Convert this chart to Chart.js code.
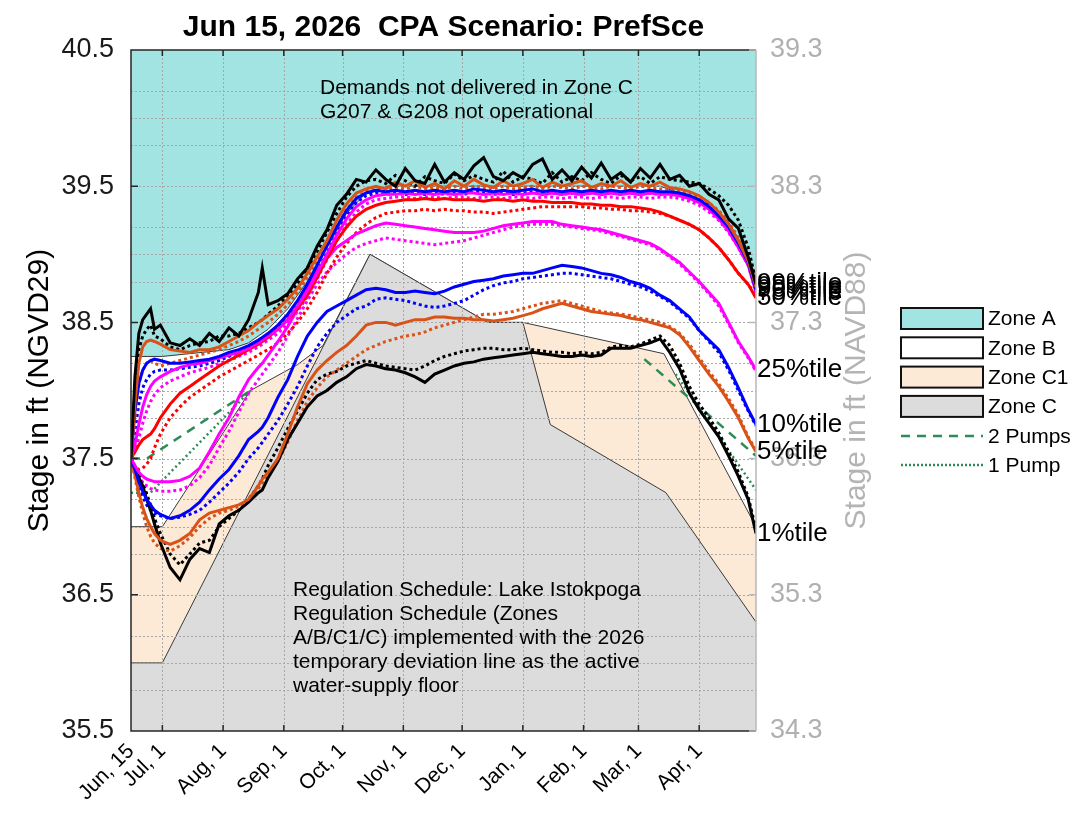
<!DOCTYPE html>
<html>
<head>
<meta charset="utf-8">
<title>Lake Istokpoga stage percentiles</title>
<script src="https://cdn.jsdelivr.net/npm/chart.js@4.4.1/dist/chart.umd.min.js"></script>
<style>
  html, body { margin: 0; padding: 0; background: #fff; }
  #wrap { position: relative; width: 1089px; height: 822px; }
</style>
</head>
<body>
<div id="wrap"><canvas id="stageChart" width="1089" height="822"></canvas></div>
<script>
// days since Jun 15, 2026
const DAYS = [0,2,4,6,8,10,12,15,20,25,30,35,40,45,50,55,60,65,67,70,75,80,85,90,95,100,105,110,115,120,125,130,135,140,145,150,155,160,165,170,175,180,185,190,195,200,205,210,215,220,225,230,235,240,245,250,255,260,265,270,275,280,285,290,295,300,305,310,315,319];

const DATE_TICKS = [0,16,47,78,108,139,169,200,231,259,290];
const DATE_LABELS = ['Jun, 15','Jul, 1','Aug, 1','Sep, 1','Oct, 1','Nov, 1','Dec, 1','Jan, 1','Feb, 1','Mar, 1','Apr, 1'];
const STAGE_TICKS = [35.5,36.5,37.5,38.5,39.5,40.5];
const NAVD_TICKS = [34.3,35.3,36.3,37.3,38.3,39.3];
const GRID_LEVELS = [40.2,40.0,39.8,39.5,39.2,39.0,38.8,38.5,38.2,38.0,37.8,37.5,37.2,37.0,36.8,36.5,36.2,36.0,35.8];

// percentile stage (ft NGVD29), solid and dotted runs
const p99Solid = [37.5,38.1,38.42,38.52,38.56,38.6,38.45,38.48,38.35,38.33,
  38.38,38.33,38.42,38.36,38.46,38.4,38.52,38.72,38.9,38.63,
  38.66,38.71,38.82,38.9,39.06,39.18,39.36,39.44,39.55,39.53,
  39.62,39.55,39.5,39.63,39.54,39.52,39.66,39.53,39.6,39.55,
  39.65,39.71,39.57,39.54,39.6,39.56,39.66,39.7,39.55,39.62,
  39.54,39.64,39.56,39.67,39.55,39.6,39.53,39.63,39.56,39.66,
  39.55,39.58,39.5,39.52,39.44,39.4,39.26,39.19,38.98,38.78];
const p99Dotted = [37.5,38.0,38.3,38.4,38.45,38.48,38.4,38.38,38.32,38.3,
  38.33,38.35,38.36,38.4,38.4,38.42,38.46,38.5,38.52,38.56,
  38.62,38.7,38.78,38.9,39.02,39.16,39.3,39.42,39.5,39.54,
  39.55,39.52,39.58,39.54,39.5,39.57,39.54,39.52,39.59,39.54,
  39.58,39.55,39.53,39.61,39.53,39.57,39.55,39.52,39.6,39.53,
  39.57,39.54,39.6,39.55,39.52,39.58,39.54,39.57,39.52,39.57,
  39.55,39.54,39.53,39.52,39.48,39.43,39.36,39.25,39.05,38.8];
const p95Solid = [37.5,37.9,38.2,38.32,38.36,38.37,38.36,38.34,38.3,38.29,
  38.28,38.3,38.3,38.32,38.36,38.4,38.44,38.5,38.52,38.55,
  38.6,38.67,38.75,38.86,38.98,39.1,39.25,39.37,39.45,39.48,
  39.5,39.48,39.53,39.5,39.54,39.49,39.52,39.48,39.54,39.5,
  39.55,39.51,39.49,39.54,39.5,39.52,39.55,39.49,39.53,39.5,
  39.52,39.54,39.49,39.52,39.5,39.54,39.49,39.52,39.5,39.53,
  39.49,39.48,39.46,39.43,39.38,39.31,39.22,39.1,38.95,38.76];
const p95Dotted = [37.5,37.8,38.05,38.15,38.2,38.22,38.2,38.18,38.2,38.22,
  38.24,38.26,38.28,38.3,38.33,38.36,38.4,38.45,38.47,38.5,
  38.56,38.63,38.72,38.83,38.95,39.07,39.2,39.33,39.42,39.46,
  39.48,39.47,39.49,39.48,39.5,39.48,39.49,39.48,39.5,39.48,
  39.5,39.49,39.48,39.5,39.48,39.49,39.5,39.48,39.5,39.49,
  39.48,39.5,39.49,39.48,39.5,39.49,39.48,39.5,39.49,39.48,
  39.48,39.47,39.45,39.42,39.38,39.32,39.24,39.12,38.97,38.76];
const p90Solid = [37.5,37.85,38.05,38.15,38.2,38.22,38.23,38.22,38.2,38.2,
  38.21,38.22,38.23,38.25,38.28,38.3,38.33,38.37,38.39,38.42,
  38.48,38.56,38.66,38.78,38.92,39.06,39.2,39.32,39.41,39.45,
  39.47,39.46,39.47,39.46,39.47,39.46,39.47,39.46,39.47,39.46,
  39.48,39.47,39.46,39.47,39.46,39.47,39.48,39.46,39.47,39.46,
  39.47,39.46,39.47,39.46,39.47,39.46,39.47,39.46,39.47,39.46,
  39.46,39.45,39.43,39.4,39.35,39.28,39.2,39.08,38.94,38.74];
const p90Dotted = [37.5,37.7,37.9,38.02,38.08,38.12,38.14,38.15,38.15,38.16,
  38.17,38.18,38.2,38.22,38.25,38.28,38.31,38.35,38.37,38.4,
  38.46,38.53,38.62,38.74,38.87,39.01,39.15,39.28,39.38,39.43,
  39.45,39.44,39.45,39.44,39.45,39.44,39.45,39.44,39.45,39.44,
  39.46,39.45,39.44,39.45,39.44,39.45,39.46,39.44,39.45,39.44,
  39.45,39.44,39.45,39.44,39.45,39.44,39.45,39.44,39.45,39.44,
  39.45,39.44,39.42,39.4,39.36,39.3,39.22,39.1,38.96,38.75];
const p75Solid = [37.5,37.6,37.75,37.88,37.97,38.03,38.07,38.1,38.14,38.17,
  38.19,38.2,38.22,38.24,38.26,38.28,38.31,38.35,38.37,38.4,
  38.45,38.52,38.62,38.73,38.86,39.0,39.14,39.26,39.35,39.4,
  39.43,39.44,39.44,39.45,39.44,39.45,39.44,39.45,39.44,39.45,
  39.45,39.44,39.45,39.44,39.45,39.44,39.45,39.44,39.45,39.44,
  39.45,39.44,39.45,39.44,39.45,39.44,39.45,39.44,39.45,39.44,
  39.44,39.43,39.41,39.38,39.33,39.26,39.17,39.05,38.92,38.72];
const p75Dotted = [37.5,37.55,37.65,37.76,37.85,37.92,37.97,38.02,38.07,38.1,
  38.13,38.15,38.17,38.2,38.22,38.25,38.28,38.32,38.34,38.37,
  38.42,38.49,38.58,38.69,38.82,38.96,39.1,39.22,39.31,39.37,
  39.4,39.41,39.42,39.42,39.41,39.42,39.42,39.41,39.42,39.42,
  39.41,39.42,39.42,39.41,39.42,39.42,39.41,39.42,39.42,39.41,
  39.42,39.42,39.41,39.42,39.42,39.41,39.42,39.42,39.41,39.42,
  39.42,39.41,39.39,39.36,39.31,39.25,39.16,39.05,38.92,38.73];
const p50Solid = [37.5,37.55,37.6,37.64,37.66,37.68,37.72,37.8,37.9,37.98,
  38.03,38.08,38.13,38.18,38.22,38.26,38.3,38.34,38.36,38.39,
  38.45,38.52,38.6,38.7,38.83,38.97,39.1,39.2,39.28,39.33,
  39.36,39.38,39.39,39.4,39.4,39.41,39.4,39.41,39.4,39.4,
  39.4,39.39,39.4,39.4,39.39,39.4,39.39,39.39,39.38,39.38,
  39.38,39.37,39.37,39.36,39.36,39.35,39.35,39.34,39.33,39.31,
  39.28,39.25,39.22,39.18,39.12,39.05,38.96,38.86,38.78,38.68];
const p50Dotted = [37.5,37.44,37.42,37.43,37.46,37.5,37.58,37.68,37.8,37.88,
  37.95,38.0,38.05,38.1,38.14,38.18,38.22,38.26,38.28,38.3,
  38.35,38.42,38.5,38.6,38.72,38.86,38.98,39.08,39.16,39.22,
  39.27,39.3,39.31,39.32,39.32,39.33,39.32,39.33,39.32,39.32,
  39.31,39.31,39.3,39.31,39.32,39.33,39.34,39.35,39.35,39.35,
  39.35,39.35,39.34,39.34,39.33,39.33,39.32,39.32,39.31,39.3,
  39.28,39.25,39.22,39.18,39.12,39.05,38.96,38.86,38.78,38.7];
const p25Solid = [37.5,37.45,37.4,37.37,37.35,37.34,37.33,37.33,37.33,37.34,
  37.37,37.43,37.55,37.68,37.8,37.95,38.08,38.17,38.2,38.26,
  38.36,38.47,38.6,38.75,38.88,38.97,39.05,39.1,39.15,39.18,
  39.21,39.23,39.22,39.21,39.2,39.19,39.18,39.17,39.16,39.16,
  39.16,39.17,39.19,39.21,39.22,39.23,39.24,39.24,39.24,39.22,
  39.21,39.2,39.19,39.18,39.16,39.14,39.12,39.1,39.08,39.04,
  38.99,38.94,38.87,38.8,38.72,38.64,38.5,38.36,38.25,38.15];
const p25Dotted = [37.5,37.42,37.36,37.32,37.3,37.28,37.27,37.26,37.26,37.27,
  37.3,37.36,37.45,37.58,37.7,37.84,37.98,38.08,38.12,38.18,
  38.28,38.4,38.53,38.66,38.78,38.87,38.94,39.0,39.05,39.08,
  39.1,39.12,39.11,39.1,39.09,39.08,39.07,39.08,39.09,39.1,
  39.12,39.14,39.16,39.18,39.2,39.21,39.22,39.22,39.22,39.21,
  39.2,39.19,39.18,39.17,39.15,39.13,39.11,39.09,39.07,39.03,
  38.98,38.93,38.86,38.79,38.71,38.62,38.49,38.35,38.24,38.14];
const p10Solid = [37.5,37.42,37.33,37.26,37.2,37.16,37.12,37.09,37.06,37.08,
  37.12,37.18,37.27,37.35,37.42,37.52,37.64,37.7,37.73,37.8,
  37.95,38.08,38.25,38.4,38.5,38.58,38.62,38.66,38.7,38.74,
  38.75,38.74,38.72,38.72,38.73,38.72,38.71,38.73,38.76,38.78,
  38.8,38.81,38.82,38.84,38.85,38.86,38.86,38.88,38.9,38.92,
  38.91,38.9,38.88,38.86,38.85,38.83,38.8,38.78,38.75,38.7,
  38.66,38.6,38.54,38.44,38.37,38.3,38.17,38.02,37.86,37.75];
const p10Dotted = [37.5,37.4,37.3,37.22,37.16,37.12,37.1,37.08,37.06,37.07,
  37.09,37.12,37.18,37.25,37.32,37.4,37.5,37.58,37.62,37.68,
  37.78,37.9,38.03,38.18,38.32,38.42,38.5,38.55,38.6,38.62,
  38.67,38.68,38.67,38.66,38.64,38.62,38.61,38.62,38.64,38.66,
  38.7,38.74,38.77,38.79,38.8,38.82,38.83,38.84,38.85,38.86,
  38.86,38.85,38.84,38.83,38.82,38.8,38.78,38.76,38.73,38.69,
  38.65,38.59,38.53,38.44,38.36,38.28,38.15,38.0,37.85,37.74];
const p5Solid = [37.5,37.38,37.25,37.14,37.06,37.0,36.95,36.9,36.87,36.9,
  36.95,37.05,37.1,37.12,37.14,37.16,37.2,37.3,37.35,37.4,
  37.5,37.68,37.88,38.05,38.15,38.22,38.28,38.33,38.4,38.48,
  38.5,38.5,38.48,38.5,38.52,38.52,38.54,38.54,38.53,38.53,
  38.52,38.52,38.51,38.52,38.53,38.55,38.57,38.6,38.62,38.64,
  38.62,38.6,38.58,38.57,38.56,38.55,38.53,38.52,38.5,38.48,
  38.46,38.41,38.32,38.22,38.12,38.03,37.92,37.8,37.65,37.55];
const p5Dotted = [37.5,37.36,37.22,37.1,37.0,36.93,36.88,36.84,36.82,36.86,
  36.92,37.0,37.06,37.1,37.12,37.15,37.2,37.28,37.32,37.38,
  37.48,37.62,37.78,37.92,38.02,38.1,38.15,38.2,38.25,38.3,
  38.33,38.36,38.38,38.4,38.41,38.43,38.46,38.48,38.5,38.52,
  38.54,38.56,38.56,38.57,38.58,38.6,38.62,38.64,38.65,38.66,
  38.64,38.62,38.6,38.58,38.57,38.56,38.55,38.53,38.52,38.5,
  38.47,38.42,38.34,38.24,38.14,38.05,37.94,37.82,37.66,37.56];
const p1Solid = [37.5,37.42,37.36,37.3,37.2,37.12,37.02,36.88,36.7,36.61,
  36.76,36.84,36.81,37.02,37.08,37.12,37.18,37.25,37.27,37.36,
  37.48,37.64,37.76,37.88,37.96,38.0,38.06,38.1,38.16,38.19,
  38.18,38.16,38.15,38.13,38.1,38.06,38.12,38.15,38.18,38.2,
  38.21,38.23,38.24,38.25,38.26,38.27,38.28,38.27,38.26,38.25,
  38.25,38.26,38.25,38.26,38.31,38.31,38.31,38.33,38.35,38.38,
  38.28,38.16,37.98,37.86,37.76,37.66,37.52,37.37,37.2,36.95];
const p1Dotted = [37.5,37.44,37.38,37.32,37.24,37.16,37.06,36.95,36.8,36.72,
  36.8,36.88,36.9,37.0,37.06,37.12,37.2,37.3,37.35,37.45,
  37.58,37.72,37.85,37.98,38.08,38.12,38.14,38.18,38.2,38.22,
  38.2,38.18,38.17,38.16,38.15,38.18,38.22,38.25,38.27,38.29,
  38.3,38.31,38.31,38.3,38.3,38.31,38.3,38.29,38.28,38.28,
  38.27,38.28,38.27,38.28,38.32,38.33,38.32,38.34,38.37,38.4,
  38.33,38.2,38.03,37.9,37.8,37.69,37.55,37.4,37.22,36.98];

// pump trigger lines (null = no line)
const PUMP2_DAYS = [0,8,61,150,262,319];
const PUMP2_STAGE = [37.5,37.5,38.0,null,38.23,37.52];
const PUMP1_DAYS = [0,10,61,150,278,319];
const PUMP1_STAGE = [37.25,37.25,38.0,null,38.12,37.27];

// regulation schedule zone boundaries
const ZONE_AB_DAYS = [0,16,50,60,70,80,90,100,110,120,130,270,290,300,310,319];
const ZONE_AB_STAGE = [38.25,38.25,38.3,38.35,38.45,38.6,38.8,39.05,39.3,39.45,39.5,39.5,39.4,39.3,39.1,38.85];
const ZONE_BC1_DAYS = [0,16,61,85,98,122,182,200,272,319];
const ZONE_BC1_STAGE = [37.0,37.0,38.0,38.19,38.33,39.0,38.5,38.5,38.27,37.0];
const ZONE_C_DAYS = [0,16,122,182,200,214,273,319];
const ZONE_C_STAGE = [36.0,36.0,39.0,38.5,38.5,37.75,37.25,36.3];

const TITLE = 'Jun 15, 2026  CPA Scenario: PrefSce';
const NOTE_TOP = ['Demands not delivered in Zone C', 'G207 & G208 not operational'];
const NOTE_BOTTOM = ['Regulation Schedule: Lake Istokpoga', 'Regulation Schedule (Zones',
  'A/B/C1/C) implemented with the 2026', 'temporary deviation line as the active', 'water-supply floor'];

const FONT = "'Liberation Sans', Arial, sans-serif";
const BLACK = '#000000', ORANGE = '#d95319', BLUE = '#0000ff', MAGENTA = '#ff00ff', RED = '#ff0000', GREEN = '#2e8b57';
const CYAN = '#a2e4e1', PEACH = '#fdead6', GREY = '#dcdcdc';

// [label, solid, dotted, colour]
const percentiles = [
  ['99%tile', p99Solid, p99Dotted, BLACK],
  ['95%tile', p95Solid, p95Dotted, ORANGE],
  ['90%tile', p90Solid, p90Dotted, BLUE],
  ['75%tile', p75Solid, p75Dotted, MAGENTA],
  ['50%tile', p50Solid, p50Dotted, RED],
  ['25%tile', p25Solid, p25Dotted, MAGENTA],
  ['10%tile', p10Solid, p10Dotted, BLUE],
  ['5%tile', p5Solid, p5Dotted, ORANGE],
  ['1%tile', p1Solid, p1Dotted, BLACK]
];

function pts(days, vals) {
  return days.map(function(d, i) { return { x: d, y: vals[i] }; });
}

const datasets = [];
percentiles.forEach(function(p, i) {
  datasets.push({ label: p[0], data: pts(DAYS, p[1]), borderColor: p[3], borderWidth: 3,
    pointRadius: 0, fill: false, order: 1 + i });
  datasets.push({ label: p[0] + ' dotted', data: pts(DAYS, p[2]), borderColor: p[3], borderWidth: 3,
    borderDash: [3, 3], pointRadius: 0, fill: false, order: 10 + i });
});
datasets.push({ label: '2 Pumps', data: pts(PUMP2_DAYS, PUMP2_STAGE), borderColor: GREEN, borderWidth: 2.5,
  borderDash: [9, 7], pointRadius: 0, fill: false, order: 20 });
datasets.push({ label: '1 Pump', data: pts(PUMP1_DAYS, PUMP1_STAGE), borderColor: GREEN, borderWidth: 2.5,
  borderDash: [2, 3], pointRadius: 0, fill: false, order: 21 });
datasets.push({ label: 'Zone A', data: pts(ZONE_AB_DAYS, ZONE_AB_STAGE), borderColor: '#3a3a3a', borderWidth: 1,
  backgroundColor: CYAN, pointRadius: 0, fill: 'end', order: 32 });
datasets.push({ label: 'Zone C1', data: pts(ZONE_BC1_DAYS, ZONE_BC1_STAGE), borderColor: '#3a3a3a', borderWidth: 1,
  backgroundColor: PEACH, pointRadius: 0, fill: 'start', order: 31 });
datasets.push({ label: 'Zone C', data: pts(ZONE_C_DAYS, ZONE_C_STAGE), borderColor: '#3a3a3a', borderWidth: 1,
  backgroundColor: GREY, pointRadius: 0, fill: 'start', order: 30 });

function drawGrid(chart) {
  const ctx = chart.ctx, a = chart.chartArea, x = chart.scales.x, y = chart.scales.y;
  ctx.save();
  ctx.strokeStyle = '#a8a8a8';
  ctx.lineWidth = 1;
  ctx.setLineDash([2, 2]);
  ctx.beginPath();
  DATE_TICKS.forEach(function(d) {
    if (d <= 0) return;
    const px = Math.round(x.getPixelForValue(d)) + 0.5;
    ctx.moveTo(px, a.top); ctx.lineTo(px, a.bottom);
  });
  GRID_LEVELS.forEach(function(v) {
    const py = Math.round(y.getPixelForValue(v)) + 0.5;
    ctx.moveTo(a.left, py); ctx.lineTo(a.right, py);
  });
  ctx.stroke();
  ctx.restore();
}

function drawFrame(chart) {
  const ctx = chart.ctx, a = chart.chartArea, x = chart.scales.x, y = chart.scales.y;
  ctx.save();
  ctx.lineWidth = 1.5;
  ctx.strokeStyle = '#262626';
  ctx.beginPath();
  ctx.moveTo(a.right, a.top); ctx.lineTo(a.left, a.top); ctx.lineTo(a.left, a.bottom); ctx.lineTo(a.right, a.bottom);
  DATE_TICKS.forEach(function(d) {
    const px = x.getPixelForValue(d);
    ctx.moveTo(px, a.bottom); ctx.lineTo(px, a.bottom - 6);
    ctx.moveTo(px, a.top); ctx.lineTo(px, a.top + 6);
  });
  STAGE_TICKS.forEach(function(v) {
    const py = y.getPixelForValue(v);
    ctx.moveTo(a.left, py); ctx.lineTo(a.left + 7, py);
  });
  ctx.stroke();
  ctx.strokeStyle = '#b8b8b8';
  ctx.beginPath();
  ctx.moveTo(a.right, a.top); ctx.lineTo(a.right, a.bottom);
  STAGE_TICKS.forEach(function(v) {
    const py = y.getPixelForValue(v);
    ctx.moveTo(a.right, py); ctx.lineTo(a.right - 7, py);
  });
  ctx.stroke();
  ctx.restore();
}

function drawTexts(chart) {
  const ctx = chart.ctx, a = chart.chartArea, y = chart.scales.y;
  ctx.save();
  ctx.fillStyle = '#000';
  ctx.textBaseline = 'middle';
  ctx.textAlign = 'center';
  ctx.font = 'bold 30px ' + FONT;
  ctx.fillText(TITLE, (a.left + a.right) / 2, 28);

  ctx.textAlign = 'left';
  ctx.font = '21px ' + FONT;
  NOTE_TOP.forEach(function(t, i) { ctx.fillText(t, 320, 88 + i * 24); });
  NOTE_BOTTOM.forEach(function(t, i) { ctx.fillText(t, 293, 590 + i * 24); });

  // right axis title (reads bottom to top like the left one)
  ctx.save();
  ctx.translate(857, (a.top + a.bottom) / 2);
  ctx.rotate(-Math.PI / 2);
  ctx.textAlign = 'center';
  ctx.fillStyle = '#b4b4b4';
  ctx.font = '30px ' + FONT;
  ctx.fillText('Stage in ft (NAVD88)', 0, 0);
  ctx.restore();

  // percentile labels at end of each solid line
  ctx.font = '26px ' + FONT;
  ctx.fillStyle = '#000';
  percentiles.forEach(function(p) {
    const last = p[1][p[1].length - 1];
    ctx.fillText(p[0], a.right + 1, y.getPixelForValue(last));
  });
  ctx.restore();
}

function drawLegend(chart) {
  const ctx = chart.ctx;
  const boxes = [['Zone A', CYAN], ['Zone B', '#ffffff'], ['Zone C1', PEACH], ['Zone C', GREY]];
  const bx = 901, bw = 82, bh = 21;
  ctx.save();
  ctx.font = '21px ' + FONT;
  ctx.textBaseline = 'middle';
  ctx.textAlign = 'left';
  boxes.forEach(function(b, i) {
    const top = 308 + i * 29.3;
    ctx.fillStyle = b[1];
    ctx.fillRect(bx, top, bw, bh);
    ctx.lineWidth = 2;
    ctx.strokeStyle = '#111';
    ctx.strokeRect(bx, top, bw, bh);
    ctx.fillStyle = '#000';
    ctx.fillText(b[0], bx + bw + 5, top + bh / 2 + 1);
  });
  const lines = [['2 Pumps', [9, 7], 436], ['1 Pump', [2, 2], 465]];
  lines.forEach(function(l) {
    ctx.strokeStyle = GREEN;
    ctx.lineWidth = 2.5;
    ctx.setLineDash(l[1]);
    ctx.beginPath();
    ctx.moveTo(bx, l[2]); ctx.lineTo(bx + bw, l[2]);
    ctx.stroke();
    ctx.setLineDash([]);
    ctx.fillStyle = '#000';
    ctx.fillText(l[0], bx + bw + 5, l[2] + 1);
  });
  ctx.restore();
}

const decorPlugin = {
  id: 'decor',
  afterDatasetDraw: function(chart, args) {
    if (chart.data.datasets[args.index].label === 'Zone C') drawGrid(chart);
  },
  afterDraw: function(chart) {
    drawFrame(chart);
    drawTexts(chart);
    drawLegend(chart);
  }
};

document.addEventListener('DOMContentLoaded', function() {
  Chart.defaults.font.family = FONT;
  const ctx = document.getElementById('stageChart').getContext('2d');

  new Chart(ctx, {
    type: 'line',
    data: { datasets: datasets },
    plugins: [decorPlugin],
    options: {
      responsive: false,
      animation: false,
      devicePixelRatio: 1,
      layout: { padding: { top: 50, left: 0, right: 0, bottom: 0 } },
      elements: { line: { tension: 0, borderCapStyle: 'butt' } },
      plugins: {
        legend: { display: false },
        tooltip: { enabled: false },
        title: { display: false }
      },
      scales: {
        x: {
          type: 'linear',
          min: 0,
          max: 319,
          afterBuildTicks: function(scale) {
            scale.ticks = DATE_TICKS.map(function(v) { return { value: v }; });
          },
          afterFit: function(scale) { scale.height = 91; },
          grid: { display: false, drawTicks: false },
          border: { display: false },
          ticks: {
            autoSkip: false,
            minRotation: 45,
            maxRotation: 45,
            padding: 8,
            color: '#000',
            font: { size: 21 },
            callback: function(value) {
              const i = DATE_TICKS.indexOf(value);
              return i >= 0 ? DATE_LABELS[i] : '';
            }
          }
        },
        y: {
          position: 'left',
          min: 35.5,
          max: 40.5,
          afterBuildTicks: function(scale) {
            scale.ticks = STAGE_TICKS.map(function(v) { return { value: v }; });
          },
          afterFit: function(scale) { scale.width = 131; },
          grid: { display: false, drawTicks: false },
          border: { display: false },
          ticks: {
            autoSkip: false,
            padding: 17,
            color: '#1a1a1a',
            font: { size: 27 },
            callback: function(value) { return value.toFixed(1); }
          },
          title: {
            display: true,
            text: 'Stage in ft (NGVD29)',
            color: '#000',
            font: { size: 30 },
            padding: { top: 22, bottom: 0 }
          }
        },
        y2: {
          position: 'right',
          min: 34.3,
          max: 39.3,
          afterBuildTicks: function(scale) {
            scale.ticks = NAVD_TICKS.map(function(v) { return { value: v }; });
          },
          afterFit: function(scale) { scale.width = 333; },
          grid: { display: false, drawTicks: false },
          border: { display: false },
          ticks: {
            autoSkip: false,
            padding: 14,
            color: '#b0b0b0',
            font: { size: 27 },
            callback: function(value) { return value.toFixed(1); }
          }
        }
      }
    }
  });
});
</script>
</body>
</html>
